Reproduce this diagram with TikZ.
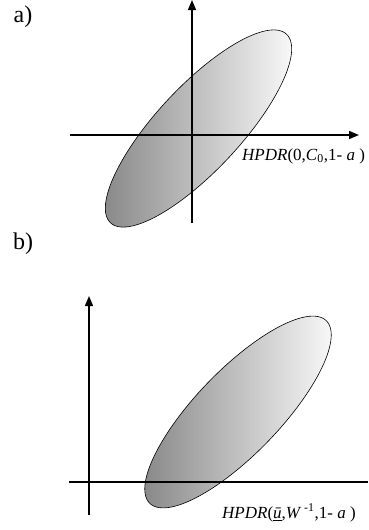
\documentclass[tikz,border=0pt]{standalone}
\usepackage{fontspec}
\setmainfont{Liberation Serif}
\usetikzlibrary{arrows.meta}
\tikzset{
  axisarrow/.style={line width=1.5pt, -{Triangle[length=10pt,width=8pt]}},
  axisplain/.style={line width=1.5pt},
  ellfill/.style={left color=black!46, right color=black!3, draw=black, line width=0.6pt},
  panellabel/.style={font=\fontsize{24}{28}\selectfont, inner sep=0pt},
  hpdr/.style={font=\fontsize{17}{19}\selectfont, inner sep=0pt, anchor=west}
}
\begin{document}
\begin{tikzpicture}[x=1pt,y=-1pt]
\useasboundingbox (0,0) rectangle (368,530);
% panel a
\node[panellabel] (la) at (23,17) {a)};
\path[ellfill] plot[domain=0:360, samples=120, smooth cycle]
  ({198.5 + 129*cos(\x)*cos(47) + 42*sin(\x)*sin(47)},
   {128.5 - 129*cos(\x)*sin(47) + 42*sin(\x)*cos(47)});
\coordinate (ay0) at (192,223);
\coordinate (ay1) at (192,0);
\coordinate (ax0) at (70,135);
\coordinate (ax1) at (359,135);
\draw[axisarrow] (ay0) -- (ay1);
\draw[axisarrow] (ax0) -- (ax1);
\node[hpdr] (ha) at (242,156) {\textit{HPDR}(0,\textit{C}\textsubscript{0},1- \textit{a} )};
% panel b
\node[panellabel] (lb) at (23,244) {b)};
\path[ellfill] plot[domain=0:360, samples=120, smooth cycle]
  ({238 + 127*cos(\x)*cos(46) + 42*sin(\x)*sin(46)},
   {412 - 127*cos(\x)*sin(46) + 42*sin(\x)*cos(46)});
\coordinate (by0) at (89,515);
\coordinate (by1) at (89,296);
\coordinate (bx0) at (69,482);
\coordinate (bx1) at (368,482);
\draw[axisarrow] (by0) -- (by1);
\draw[axisplain] (bx0) -- (bx1);
\node[hpdr] (hb) at (222,513) {\textit{HPDR}(\underline{\textit{ū}},\textit{W}\,\textsuperscript{-1},1- \textit{a} )};
\end{tikzpicture}
\end{document}
